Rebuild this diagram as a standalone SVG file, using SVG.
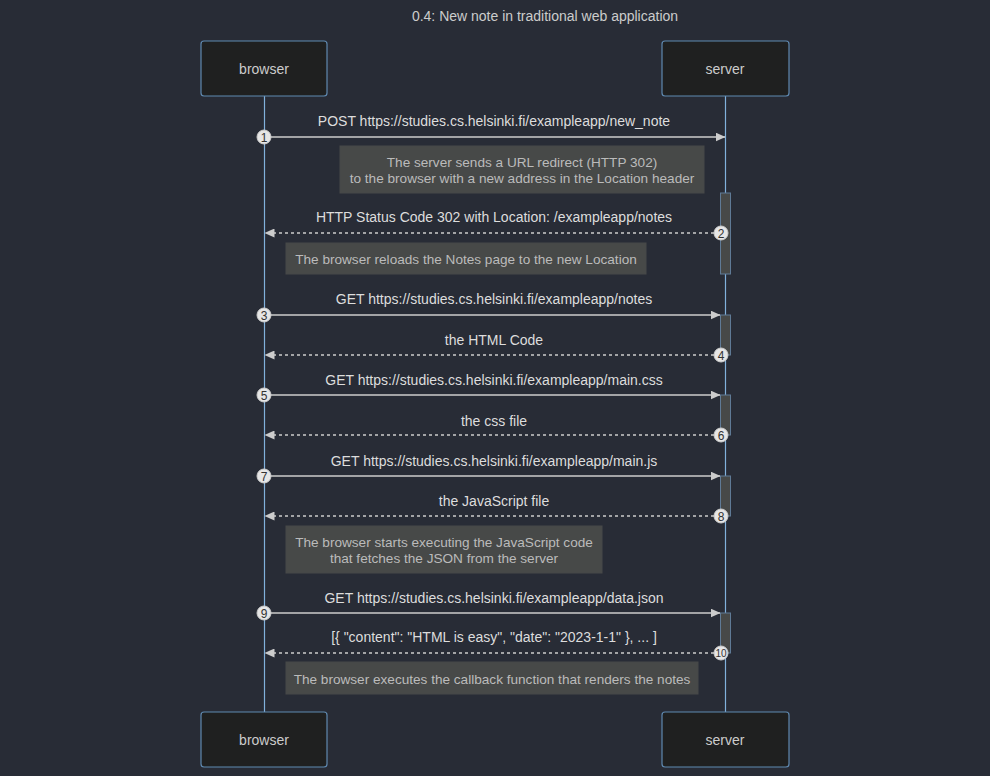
<svg xmlns="http://www.w3.org/2000/svg" width="990" height="776" viewBox="0 0 990 776">
<style>
text{font-family:"Liberation Sans",Arial,sans-serif;}
.bg{fill:#282c36;}
.actor{fill:#1f2020;stroke:#5f89b0;stroke-width:1.2;}
.atext{fill:#cccccc;font-size:14px;text-anchor:middle;dominant-baseline:central;}
.life{stroke:#81b1db;stroke-width:1.2;}
.msg{stroke:#cccccc;stroke-width:1.5;fill:none;}
.dash{stroke-dasharray:3,3;}
.mtext{fill:#dddddd;font-size:14px;text-anchor:middle;}
.note{fill:#474948;stroke:#474948;}
.ntext{fill:#bbbbbb;font-size:13.6px;text-anchor:middle;}
.act{fill:#474948;stroke:#5f7a96;stroke-width:1;}
.seq{fill:#e6e6e6;stroke:#cccccc;stroke-width:1;}
.seqt{fill:#333;font-size:12px;text-anchor:middle;dominant-baseline:central;}
.title{fill:#cccccc;font-size:14px;text-anchor:middle;}
</style>
<defs>
<marker id="arr" viewBox="0 0 10 9" refX="9.5" refY="4.5" markerWidth="10" markerHeight="9" markerUnits="userSpaceOnUse" orient="auto">
<path d="M0,0 L10,4.5 L0,9 z" fill="#cccccc"/>
</marker>
</defs>
<rect class="bg" x="0" y="0" width="990" height="776"/>
<text class="title" x="545" y="21">0.4: New note in traditional web application</text>

<g id="lifelines">
<line class="life" x1="264.5" y1="96" x2="264.5" y2="712"/>
<line class="life" x1="725.5" y1="96" x2="725.5" y2="712"/>
</g>

<g id="browser">
<rect class="actor" x="201" y="41" width="126" height="55" rx="3"/>
<text class="atext" x="264" y="69">browser</text>
</g>
<g id="server">
<rect class="actor" x="662" y="41" width="127" height="55" rx="3"/>
<text class="atext" x="725" y="69">server</text>
</g>
<g id="browser-bottom">
<rect class="actor" x="201" y="712" width="126" height="55" rx="3"/>
<text class="atext" x="264" y="740">browser</text>
</g>
<g id="server-bottom">
<rect class="actor" x="662" y="712" width="127" height="55" rx="3"/>
<text class="atext" x="725" y="740">server</text>
</g>

<g id="activations">
<rect class="act" x="720.5" y="193" width="10" height="81"/>
<rect class="act" x="720.5" y="315" width="10" height="40"/>
<rect class="act" x="720.5" y="395" width="10" height="40"/>
<rect class="act" x="720.5" y="476" width="10" height="40"/>
<rect class="act" x="720.5" y="613" width="10" height="40"/>
</g>

<g id="notes">
<g id="note1">
<rect class="note" x="340" y="146" width="364" height="47"/>
<text class="ntext" x="522" y="167">The server sends a URL redirect (HTTP 302)</text>
<text class="ntext" x="522" y="183">to the browser with a new address in the Location header</text>
</g>
<g id="note2">
<rect class="note" x="286" y="243" width="360" height="31"/>
<text class="ntext" x="466" y="264">The browser reloads the Notes page to the new Location</text>
</g>
<g id="note3">
<rect class="note" x="286" y="526" width="316" height="47"/>
<text class="ntext" x="444" y="547">The browser starts executing the JavaScript code</text>
<text class="ntext" x="444" y="563">that fetches the JSON from the server</text>
</g>
<g id="note4">
<rect class="note" x="286" y="662" width="412" height="32"/>
<text class="ntext" x="492" y="684">The browser executes the callback function that renders the notes</text>
</g>
</g>

<g id="connectors">
<line class="msg" x1="264" y1="137" x2="725" y2="137" marker-end="url(#arr)"/>
<text class="mtext" x="494" y="126">POST https://studies.cs.helsinki.fi/exampleapp/new_note</text>

<line class="msg dash" x1="720" y1="233" x2="265" y2="233" marker-end="url(#arr)"/>
<text class="mtext" x="494" y="222">HTTP Status Code 302 with Location: /exampleapp/notes</text>

<line class="msg" x1="264" y1="315" x2="720" y2="315" marker-end="url(#arr)"/>
<text class="mtext" x="494" y="304">GET https://studies.cs.helsinki.fi/exampleapp/notes</text>

<line class="msg dash" x1="720" y1="355" x2="265" y2="355" marker-end="url(#arr)"/>
<text class="mtext" x="494" y="345">the HTML Code</text>

<line class="msg" x1="264" y1="395" x2="720" y2="395" marker-end="url(#arr)"/>
<text class="mtext" x="494" y="385">GET https://studies.cs.helsinki.fi/exampleapp/main.css</text>

<line class="msg dash" x1="720" y1="435" x2="265" y2="435" marker-end="url(#arr)"/>
<text class="mtext" x="494" y="426">the css file</text>

<line class="msg" x1="264" y1="476" x2="720" y2="476" marker-end="url(#arr)"/>
<text class="mtext" x="494" y="466">GET https://studies.cs.helsinki.fi/exampleapp/main.js</text>

<line class="msg dash" x1="720" y1="516" x2="265" y2="516" marker-end="url(#arr)"/>
<text class="mtext" x="494" y="506">the JavaScript file</text>

<line class="msg" x1="264" y1="613" x2="720" y2="613" marker-end="url(#arr)"/>
<text class="mtext" x="494" y="603">GET https://studies.cs.helsinki.fi/exampleapp/data.json</text>

<line class="msg dash" x1="720" y1="653" x2="265" y2="653" marker-end="url(#arr)"/>
<text class="mtext" x="494" y="642">[{ "content": "HTML is easy", "date": "2023-1-1" }, ... ]</text>
</g>

<g id="sequence-numbers">
<circle class="seq" cx="264" cy="137" r="7"/><text class="seqt" x="264" y="137.5">1</text>
<circle class="seq" cx="721" cy="233" r="7"/><text class="seqt" x="721" y="233.5">2</text>
<circle class="seq" cx="264" cy="315" r="7"/><text class="seqt" x="264" y="315.5">3</text>
<circle class="seq" cx="721" cy="355" r="7"/><text class="seqt" x="721" y="355.5">4</text>
<circle class="seq" cx="264" cy="395" r="7"/><text class="seqt" x="264" y="395.5">5</text>
<circle class="seq" cx="721" cy="435" r="7"/><text class="seqt" x="721" y="435.5">6</text>
<circle class="seq" cx="264" cy="476" r="7"/><text class="seqt" x="264" y="476.5">7</text>
<circle class="seq" cx="721" cy="516" r="7"/><text class="seqt" x="721" y="516.5">8</text>
<circle class="seq" cx="264" cy="613" r="7"/><text class="seqt" x="264" y="613.5">9</text>
<circle class="seq" cx="721" cy="653" r="7"/><text class="seqt" x="721" y="653.5" style="font-size:10px">10</text>
</g>
</svg>
